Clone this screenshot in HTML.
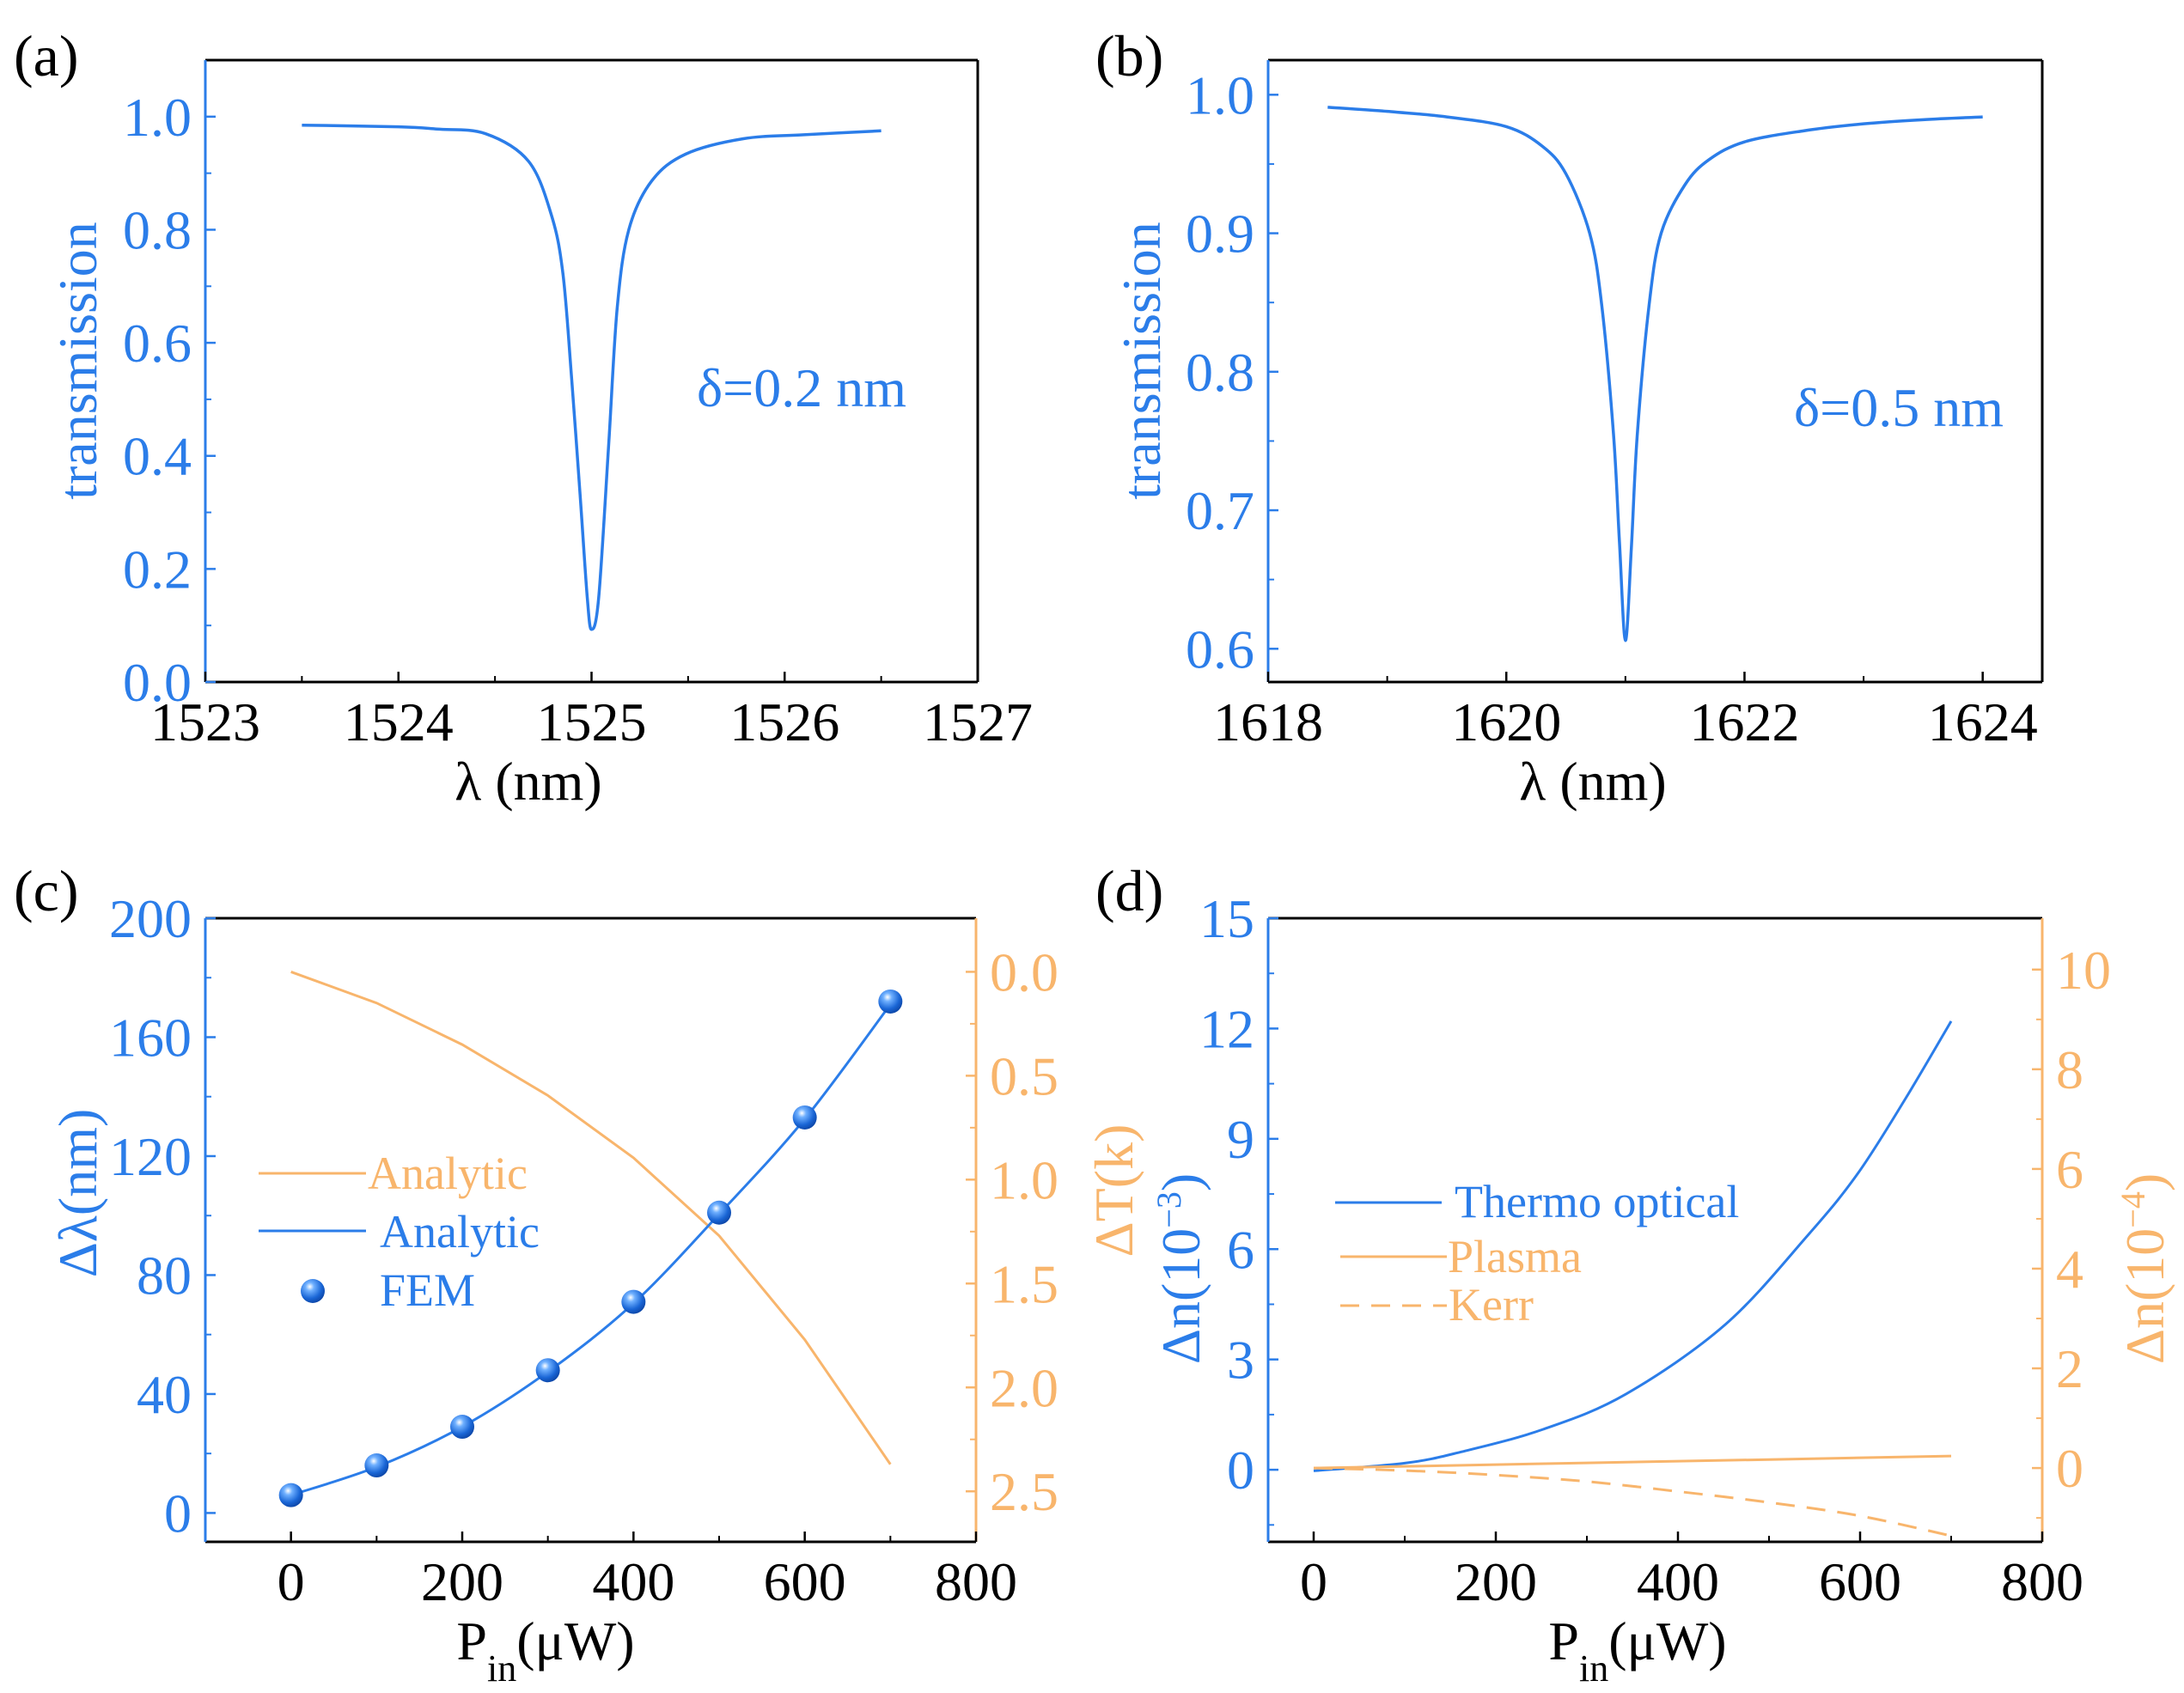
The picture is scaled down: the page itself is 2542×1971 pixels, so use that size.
<!DOCTYPE html>
<html><head><meta charset="utf-8">
<style>
html,body{margin:0;padding:0;background:#fff;}
svg{display:block;font-family:"Liberation Serif",serif;}
</style></head>
<body>
<svg id="fig" width="2542" height="1971" viewBox="0 0 2542 1971" xmlns="http://www.w3.org/2000/svg"></svg>
<script>
// ---- Panel (a) data ----
const aLambda = [1523.5,1524.0,1524.2,1524.45,1524.674,1524.793,1524.852,1524.896,1524.941,1524.978,1525.0,1525.037,1525.089,1525.133,1525.193,1525.311,1525.489,1525.786,1526.1,1526.5];
const aTrans  = [0.985,0.982,0.978,0.970,0.921,0.825,0.722,0.541,0.330,0.149,0.093,0.149,0.421,0.662,0.80,0.886,0.934,0.961,0.968,0.975];
const aXTicks = [1523,1524,1525,1526,1527];
const aYTicks = [0.0,0.2,0.4,0.6,0.8,1.0];
// ---- Panel (b) data ----
const bLambda = [1618.5,1619.0,1619.5,1620.0,1620.3,1620.5,1620.7,1620.8,1620.9,1620.95,1621.0,1621.05,1621.1,1621.2,1621.3,1621.5,1621.7,1622.0,1622.5,1623.0,1623.5,1624.0];
const bTrans  = [0.991,0.988,0.984,0.977,0.963,0.943,0.90,0.849,0.755,0.677,0.606,0.673,0.755,0.849,0.90,0.935,0.953,0.966,0.974,0.979,0.982,0.984];
const bXTicks = [1618,1620,1622,1624];
const bYTicks = [0.6,0.7,0.8,0.9,1.0];
// ---- Panel (c) data ----
const cPower = [0,100,200,300,400,500,600,700];
const cFEM = [6,16,29,48,71,101,133,172];
const cAnalyticShift = [6,15.5,29,47.5,70.5,100.5,132.5,171];
const cDeltaT = [0.0,0.15,0.35,0.595,0.895,1.27,1.77,2.37];
const cXTicks = [0,200,400,600,800];
const cYTicks = [0,40,80,120,160,200];
const cY2Ticks = ["0.0","0.5","1.0","1.5","2.0","2.5"];
// ---- Panel (d) data ----
const dPowerThermo = [0,100,161,252,343,452,542,597,650,700];
const dThermo = [-0.03,0.18,0.48,1.10,2.06,3.95,6.36,8.04,10.1,12.2];
const dPower = [0,100,200,300,400,500,600,700];
const dPlasma = [0,0.034,0.069,0.103,0.137,0.171,0.206,0.24];
const dKerr = [0,-0.05,-0.14,-0.27,-0.47,-0.69,-0.96,-1.36];
const dXTicks = [0,200,400,600,800];
const dYTicks = [0,3,6,9,12,15];
const dY2Ticks = [0,2,4,6,8,10];

const NS = "http://www.w3.org/2000/svg";
const svg = document.getElementById('fig');
const BLUE = "#2b7de9", ORANGE = "#f8b56c", BLACK = "#000";
function mk(tag, attrs, parent){
  const e = document.createElementNS(NS, tag);
  for (const k in attrs) e.setAttribute(k, attrs[k]);
  (parent||svg).appendChild(e);
  return e;
}
function scale(d0,d1,r0,r1){ return v => r0 + (v-d0)/(d1-d0)*(r1-r0); }
function smoothPath(pts){
  let d = "M"+pts[0][0].toFixed(2)+","+pts[0][1].toFixed(2);
  for (let i=0;i<pts.length-1;i++){
    const p0=pts[Math.max(0,i-1)], p1=pts[i], p2=pts[i+1], p3=pts[Math.min(pts.length-1,i+2)];
    const c1=[p1[0]+(p2[0]-p0[0])/6, p1[1]+(p2[1]-p0[1])/6];
    const c2=[p2[0]-(p3[0]-p1[0])/6, p2[1]-(p3[1]-p1[1])/6];
    d += " C"+c1[0].toFixed(2)+","+c1[1].toFixed(2)+" "+c2[0].toFixed(2)+","+c2[1].toFixed(2)+" "+p2[0].toFixed(2)+","+p2[1].toFixed(2);
  }
  return d;
}
function linePath(pts){ return "M"+pts.map(p=>p[0].toFixed(2)+","+p[1].toFixed(2)).join(" L"); }
function txt(parent, x, y, s, attrs){
  const t = mk('text', Object.assign({x:x, y:y, 'font-size':64}, attrs||{}), parent);
  t.textContent = s;
  return t;
}

const defs = mk('defs', {});
const rg = mk('radialGradient', {id:'ball', cx:'0.38', cy:'0.32', r:'0.7'}, defs);
mk('stop', {offset:'0', 'stop-color':'#ffffff'}, rg);
mk('stop', {offset:'0.25', 'stop-color':'#6fb0ff'}, rg);
mk('stop', {offset:'0.7', 'stop-color':'#1a66d6'}, rg);
mk('stop', {offset:'1', 'stop-color':'#0d47a8'}, rg);

function axesFrame(g, box, rightColor){
  mk('line',{x1:box.l,y1:box.t,x2:box.r,y2:box.t,stroke:BLACK,'stroke-width':3},g);
  mk('line',{x1:box.r,y1:box.t,x2:box.r,y2:box.b,stroke:rightColor,'stroke-width':3},g);
  mk('line',{x1:box.l,y1:box.b,x2:box.r,y2:box.b,stroke:BLACK,'stroke-width':3},g);
  mk('line',{x1:box.l,y1:box.t,x2:box.l,y2:box.b,stroke:BLUE,'stroke-width':3},g);
}
function xTicks(g, box, xs, ticks){
  ticks.forEach(v=>{
    const x = xs(v);
    mk('line',{x1:x,y1:box.b,x2:x,y2:box.b-12,stroke:BLACK,'stroke-width':2.5},g);
    const t = txt(g, x, box.b+68, String(v), {'text-anchor':'middle',fill:BLACK});
    
    
  });
  for (let i=0;i<ticks.length-1;i++){
    const x = xs((ticks[i]+ticks[i+1])/2);
    mk('line',{x1:x,y1:box.b,x2:x,y2:box.b-7,stroke:BLACK,'stroke-width':2},g);
  }
}
function yTicks(g, box, ys, ticks, labels, side, color){
  ticks.forEach((v,i)=>{
    const y = ys(v);
    const x0 = side==='left'?box.l:box.r;
    const dir = side==='left'?1:-1;
    mk('line',{x1:x0,y1:y,x2:x0+dir*12,y2:y,stroke:color,'stroke-width':2.5},g);
    const t = txt(g, side==='left'?box.l-16:box.r+16, y+22, labels[i], {'text-anchor':side==='left'?'end':'start',fill:color});
    
    
    if (i<ticks.length-1){
      const ym = ys((ticks[i]+ticks[i+1])/2);
      mk('line',{x1:x0,y1:ym,x2:x0+dir*7,y2:ym,stroke:color,'stroke-width':2},g);
    }
  });
}
function panelLabel(x,y,s,name){
  const t = txt(svg, x, y, s, {'font-size':68, fill:BLACK});
  
  
}
function rotTitle(g, cx, cy, parts, color, name){
  const t = mk('text',{x:0,y:0,'font-size':64,fill:color,'text-anchor':'middle',transform:`translate(${cx},${cy}) rotate(-90)`},g);
  
  
  parts.forEach(p=>{
    const s = mk('tspan', p.sup?{'baseline-shift':'super','font-size':40}:{}, t);
    s.textContent = p.t;
  });
  return t;
}
function xTitlePin(g, cx, y, name){
  const t = mk('text',{x:cx,y:y,'font-size':64,fill:BLACK,'text-anchor':'middle'},g);
  
  
  const a = mk('tspan',{},t); a.textContent='P';
  const b = mk('tspan',{'baseline-shift':'sub','font-size':44},t); b.textContent='in';
  const c = mk('tspan',{},t); c.textContent='(\u03BCW)';
}

// ===== Panel (a) =====
{
  const g = mk('g',{});  
  const box={l:239,r:1138,t:70,b:794};
  const xs=scale(1523,1527,box.l,box.r), ys=scale(0,1.1,box.b,box.t);
  axesFrame(g,box,BLACK);
  xTicks(g,box,xs,aXTicks);
  yTicks(g,box,ys,aYTicks,aYTicks.map(v=>v.toFixed(1)),'left',BLUE);
  const p = mk('path',{d:smoothPath(aLambda.map((v,i)=>[xs(v),ys(aTrans[i])])),fill:'none',stroke:BLUE,'stroke-width':3.5},g);
   
  const t1 = txt(g, 811, 473, '\u03B4=0.2 nm', {fill:BLUE});
   
  const xt = txt(g, 615, 931, '\u03BB (nm)', {'text-anchor':'middle',fill:BLACK});
   
  rotTitle(g, 112, 420, [{t:'transmission'}], BLUE, 'y-axis-title-a');
  panelLabel(16, 88, '(a)', 'panel-label-a');
}
// ===== Panel (b) =====
{
  const g = mk('g',{});  
  const box={l:1476,r:2377,t:70,b:794};
  const xs=scale(1618,1624.5,box.l,box.r), ys=scale(0.576,1.025,box.b,box.t);
  axesFrame(g,box,BLACK);
  bXTicks.forEach((v,i)=>{
    const x=xs(v);
    mk('line',{x1:x,y1:box.b,x2:x,y2:box.b-12,stroke:BLACK,'stroke-width':2.5},g);
    const t=txt(g,x,box.b+68,String(v),{'text-anchor':'middle',fill:BLACK});
     
    if (i<bXTicks.length-1){
      const xm=xs(v+1);
      mk('line',{x1:xm,y1:box.b,x2:xm,y2:box.b-7,stroke:BLACK,'stroke-width':2},g);
    }
  });
  yTicks(g,box,ys,bYTicks,bYTicks.map(v=>v.toFixed(1)),'left',BLUE);
  const p = mk('path',{d:smoothPath(bLambda.map((v,i)=>[xs(v),ys(bTrans[i])])),fill:'none',stroke:BLUE,'stroke-width':3.5},g);
   
  const t1 = txt(g, 2088, 496, '\u03B4=0.5 nm', {fill:BLUE});
   
  const xt = txt(g, 1854, 931, '\u03BB (nm)', {'text-anchor':'middle',fill:BLACK});
   
  rotTitle(g, 1350, 420, [{t:'transmission'}], BLUE, 'y-axis-title-b');
  panelLabel(1275, 88, '(b)', 'panel-label-b');
}
// ===== Panel (c) =====
{
  const g = mk('g',{});  
  const box={l:239,r:1136,t:1069,b:1795};
  const xs=scale(-100,800,box.l,box.r), ys=scale(-9.7,200,box.b,box.t), y2=scale(2.743,-0.258,box.b,box.t);
  axesFrame(g,box,ORANGE);
  xTicks(g,box,xs,cXTicks);
  yTicks(g,box,ys,cYTicks,cYTicks.map(String),'left',BLUE);
  yTicks(g,box,y2,cY2Ticks.map(Number),cY2Ticks,'right',ORANGE);
  const po = mk('path',{d:linePath(cPower.map((v,i)=>[xs(v),y2(cDeltaT[i])])),fill:'none',stroke:ORANGE,'stroke-width':3},g);
   
  const pb = mk('path',{d:smoothPath(cPower.map((v,i)=>[xs(v),ys(cAnalyticShift[i])])),fill:'none',stroke:BLUE,'stroke-width':3},g);
   
  cPower.forEach((v,i)=>{
    const c = mk('circle',{cx:xs(v),cy:ys(cFEM[i]),r:14,fill:'url(#ball)'},g);
     
  });
  const lg = mk('g',{},g);  
  mk('line',{x1:301,y1:1366,x2:426,y2:1366,stroke:ORANGE,'stroke-width':3},lg);
  txt(lg,428,1384,'Analytic',{fill:ORANGE,'font-size':54});
  mk('line',{x1:301,y1:1433,x2:426,y2:1433,stroke:BLUE,'stroke-width':3},lg);
  txt(lg,442,1452,'Analytic',{fill:BLUE,'font-size':54});
  mk('circle',{cx:364,cy:1503,r:14,fill:'url(#ball)'},lg);
  txt(lg,442,1520,'FEM',{fill:BLUE,'font-size':54});
  xTitlePin(g, 635, 1932, 'x-axis-title-c');
  rotTitle(g, 112, 1389, [{t:'\u0394\u03BB(nm)'}], BLUE, 'y-axis-title-c');
  rotTitle(g, 1318, 1386, [{t:'\u0394T(k)'}], ORANGE, 'y2-axis-title-c');
  panelLabel(16, 1060, '(c)', 'panel-label-c');
}
// ===== Panel (d) =====
{
  const g = mk('g',{});  
  const box={l:1476,r:2377,t:1069,b:1795};
  const xs=scale(-50,800,box.l,box.r), ys=scale(-1.96,15,box.b,box.t), y2=scale(-1.48,11.03,box.b,box.t);
  axesFrame(g,box,ORANGE);
  xTicks(g,box,xs,dXTicks);
  yTicks(g,box,ys,dYTicks,dYTicks.map(String),'left',BLUE);
  yTicks(g,box,y2,dY2Ticks,dY2Ticks.map(String),'right',ORANGE);
  mk('line',{x1:box.l,y1:ys(-1.5),x2:box.l+7,y2:ys(-1.5),stroke:BLUE,'stroke-width':2},g);
  mk('line',{x1:box.r,y1:y2(-1),x2:box.r-7,y2:y2(-1),stroke:ORANGE,'stroke-width':2},g);
  const pt = mk('path',{d:smoothPath(dPowerThermo.map((v,i)=>[xs(v),ys(dThermo[i])])),fill:'none',stroke:BLUE,'stroke-width':3},g);
   
  const pp = mk('path',{d:linePath(dPower.map((v,i)=>[xs(v),y2(dPlasma[i])])),fill:'none',stroke:ORANGE,'stroke-width':3},g);
   
  const pk = mk('path',{d:smoothPath(dPower.map((v,i)=>[xs(v),y2(dKerr[i])])),fill:'none',stroke:ORANGE,'stroke-width':3,'stroke-dasharray':'22,14'},g);
   
  const lg = mk('g',{},g);  
  mk('line',{x1:1554,y1:1400,x2:1678,y2:1400,stroke:BLUE,'stroke-width':3},lg);
  txt(lg,1693,1417,'Thermo optical',{fill:BLUE,'font-size':54});
  mk('line',{x1:1560,y1:1463,x2:1684,y2:1463,stroke:ORANGE,'stroke-width':3},lg);
  txt(lg,1685,1481,'Plasma',{fill:ORANGE,'font-size':54});
  mk('line',{x1:1560,y1:1520,x2:1684,y2:1520,stroke:ORANGE,'stroke-width':3,'stroke-dasharray':'22,14'},lg);
  txt(lg,1686,1537,'Kerr',{fill:ORANGE,'font-size':54});
  xTitlePin(g, 1906, 1932, 'x-axis-title-d');
  rotTitle(g, 1396, 1477, [{t:'\u0394n(10'},{t:'\u22123',sup:true},{t:')'}], BLUE, 'y-axis-title-d');
  rotTitle(g, 2518, 1477, [{t:'\u0394n(10'},{t:'\u22124',sup:true},{t:')'}], ORANGE, 'y2-axis-title-d');
  panelLabel(1275, 1060, '(d)', 'panel-label-d');
}
</script>
</body></html>
